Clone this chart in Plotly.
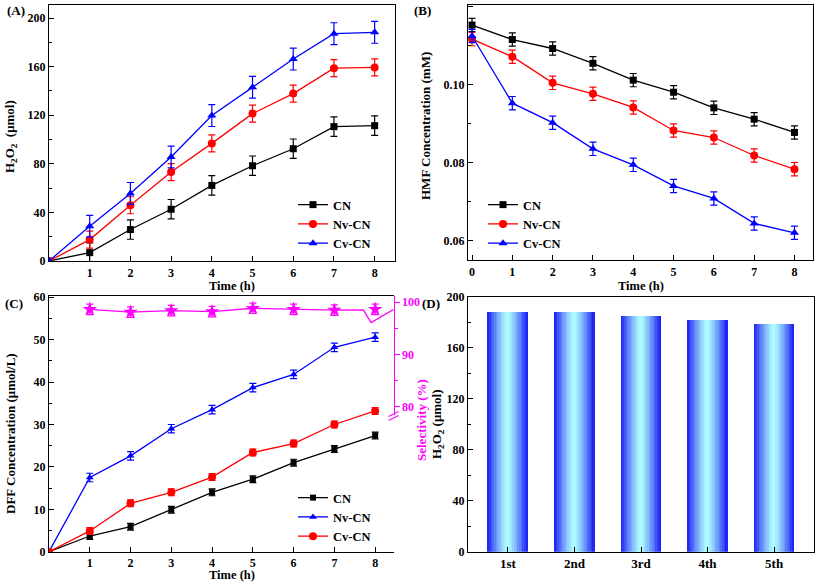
import plotly.graph_objects as go

W, H = 817, 588

# ---------------- data ----------------
time_a = [0, 1, 2, 3, 4, 5, 6, 7, 8]
h2o2_cn = [0, 6.9, 25.9, 42.6, 62.2, 78.4, 92.4, 110.6, 111.4]
h2o2_nv = [0, 17.6, 45.9, 73.2, 96.8, 121.3, 137.8, 158.7, 159.3]
h2o2_cv = [0, 28.6, 55.6, 85.6, 119.7, 143.0, 166.2, 187.1, 188.2]
h2o2_cn_err = [0, 8, 8, 8, 8, 8, 8, 8, 8]
h2o2_nv_err = [0, 7, 7, 7, 7, 7, 7, 7, 7]
h2o2_cv_err = [0, 9, 9, 9, 9, 9, 9, 9, 9]

time_b = [0, 1, 2, 3, 4, 5, 6, 7, 8]
hmf_cn = [0.1153, 0.1116, 0.1093, 0.1055, 0.1012, 0.0981, 0.0941, 0.0912, 0.0878]
hmf_nv = [0.1117, 0.1072, 0.1005, 0.0977, 0.0942, 0.0883, 0.0865, 0.0819, 0.0784]
hmf_cv = [0.1125, 0.0953, 0.0903, 0.0836, 0.0795, 0.0741, 0.0709, 0.0645, 0.0621]
hmf_err = 0.0017

time_c = [0, 1, 2, 3, 4, 5, 6, 7, 8]
dff_cn = [0, 3.7, 5.9, 9.9, 14.0, 17.1, 21.0, 24.2, 27.4]
dff_nv = [0, 17.5, 22.6, 29.0, 33.5, 38.7, 41.8, 48.2, 50.6]
dff_cv = [0, 4.9, 11.4, 14.0, 17.6, 23.4, 25.5, 30.0, 33.2]
dff_err = [0, 0.8, 0.8, 0.8, 0.8, 0.8, 0.8, 0.8, 0.8]
dff_nv_err = [0, 1.0, 1.0, 1.0, 1.0, 1.0, 1.0, 1.0, 1.0]

sel_time = [1, 2, 3, 4, 5, 6, 7, 8]
sel_vals = [98.65, 98.1, 98.4, 98.2, 98.85, 98.65, 98.5, 98.65]
sel_err = 1.0
sel_line_x = [1, 2, 3, 4, 5, 6, 7, 7.71, 7.90, 8.47]
sel_line_y = [98.65, 98.1, 98.4, 98.2, 98.85, 98.65, 98.5, 98.55, 96.1, 98.7]

cycles = ["1st", "2nd", "3rd", "4th", "5th"]
cycle_h2o2 = [187.9, 188.0, 184.7, 181.6, 179.0]

# ---------------- styling ----------------
FONT = "Liberation Serif"
BLACK, RED, BLUE, MAG = "#000000", "#ff0000", "#0000ff", "#ff00ff"


def px_x(p):
    return p / W


def px_y(p):
    return 1 - p / H


tickfont = dict(family=FONT, size=12, color="black", weight="bold")


def axis_common(**kw):
    d = dict(showline=True, linecolor="black", linewidth=1.2, ticks="inside",
             ticklen=5, tickwidth=1, tickcolor="black", showgrid=False,
             zeroline=False, tickfont=tickfont, automargin=False)
    d.update(kw)
    return d


fig = go.Figure()


def line_trace(x, y, err, color, symbol, size, name, xa, ya, legend):
    if isinstance(err, list):
        ey = dict(type="data", array=err)
    else:
        ey = dict(type="constant", value=err)
    ey.update(color=color, thickness=1.2, width=3.5, visible=True)
    fig.add_trace(go.Scatter(
        x=x, y=y, mode="lines+markers", name=name,
        line=dict(color=color, width=1.3),
        marker=dict(symbol=symbol, size=size, color=color),
        error_y=ey, xaxis=xa, yaxis=ya, legend=legend, showlegend=True))


# Panel A
line_trace(time_a, h2o2_cn, h2o2_cn_err, BLACK, "square", 7, "CN", "x", "y", "legend")
line_trace(time_a, h2o2_nv, h2o2_nv_err, RED, "circle", 8, "Nv-CN", "x", "y", "legend")
line_trace(time_a, h2o2_cv, h2o2_cv_err, BLUE, "triangle-up", 8, "Cv-CN", "x", "y", "legend")

# Panel B
line_trace(time_b, hmf_cn, hmf_err, BLACK, "square", 7, "CN", "x2", "y2", "legend2")
line_trace(time_b, hmf_nv, hmf_err, RED, "circle", 8, "Nv-CN", "x2", "y2", "legend2")
line_trace(time_b, hmf_cv, hmf_err, BLUE, "triangle-up", 8, "Cv-CN", "x2", "y2", "legend2")

# Panel C
line_trace(time_c, dff_cn, dff_err, BLACK, "square", 6, "CN", "x3", "y3", "legend3")
line_trace(time_c, dff_nv, dff_nv_err, BLUE, "triangle-up", 7, "Nv-CN", "x3", "y3", "legend3")
line_trace(time_c, dff_cv, dff_err, RED, "circle", 8, "Cv-CN", "x3", "y3", "legend3")

fig.add_trace(go.Scatter(x=sel_line_x, y=sel_line_y, mode="lines",
                         line=dict(color=MAG, width=1.3), showlegend=False,
                         xaxis="x3", yaxis="y5"))
fig.add_trace(go.Scatter(x=sel_time, y=sel_vals, mode="markers",
                         marker=dict(symbol="star", size=11, color=MAG),
                         error_y=dict(type="constant", value=sel_err, color=MAG,
                                      thickness=1.2, width=3.5),
                         showlegend=False, xaxis="x3", yaxis="y5"))

# Panel D gradient bars
N = 24
bw = 0.6
c_edge = (24, 24, 245)
c_mid = (176, 255, 255)
for i in range(N):
    center = -bw / 2 + (i + 0.5) * bw / N
    t = abs(center) / (bw / 2)
    t = t ** 1.3
    col = tuple(int(round(c_mid[k] + (c_edge[k] - c_mid[k]) * t)) for k in range(3))
    fig.add_trace(go.Bar(x=cycles, y=cycle_h2o2, width=bw / N + 0.002,
                         offset=-bw / 2 + i * bw / N,
                         marker=dict(color="rgb(%d,%d,%d)" % col, line=dict(width=0)),
                         showlegend=False, xaxis="x4", yaxis="y6",
                         hoverinfo="skip"))

# ---------------- layout ----------------
A_x = [px_x(49), px_x(395)]
A_y = [px_y(261), px_y(5)]
B_x = [px_x(468), px_x(813)]
B_y = [px_y(260), px_y(5)]
C_x = [px_x(49), px_x(393.5)]
C_y = [px_y(551.7), px_y(296)]
D_x = [px_x(468), px_x(814)]
D_y = [px_y(551.7), px_y(297)]

magfont = dict(family=FONT, size=12, color=MAG, weight="bold")

fig.update_layout(
    width=W, height=H, margin=dict(l=0, r=0, t=0, b=0, pad=0, autoexpand=False),
    paper_bgcolor="white", plot_bgcolor="rgba(0,0,0,0)",
    barmode="overlay", bargap=0,
    font=dict(family=FONT, size=12, color="black"),
    xaxis=axis_common(domain=A_x, anchor="y", range=[0, 8.5], tickvals=[1, 2, 3, 4, 5, 6, 7, 8], mirror=True),
    yaxis=axis_common(domain=A_y, anchor="x", range=[0, 210.7], tick0=0, dtick=40, mirror=True,
                      minor=dict(dtick=20, ticks="inside", ticklen=3, tickcolor="black")),
    xaxis2=axis_common(domain=B_x, anchor="y2", range=[-0.1, 8.46], tick0=0, dtick=1, mirror=True),
    yaxis2=axis_common(domain=B_y, anchor="x2", range=[0.05513, 0.12044],
                       tickvals=[0.06, 0.08, 0.10, 0.12], ticktext=["0.06", "0.08", "0.10", "0.12"], mirror=True,
                       minor=dict(tickvals=[0.07, 0.09, 0.11], ticks="inside", ticklen=3, tickcolor="black")),
    xaxis3=axis_common(domain=C_x, anchor="y3", range=[0, 8.45], tickvals=[1, 2, 3, 4, 5, 6, 7, 8], mirror=True),
    yaxis3=axis_common(domain=C_y, anchor="x3", range=[0, 60.3], tick0=0, dtick=10, mirror=False,
                       minor=dict(dtick=5, ticks="inside", ticklen=3, tickcolor="black")),
    yaxis4=dict(domain=[px_y(551.7), px_y(417.5)], anchor="x3", side="right", range=[0, 27.3],
                showline=True, linecolor=MAG, linewidth=1.2, ticks="outside", ticklen=5, tickcolor=MAG,
                tickvals=[0, 10, 20], showgrid=False, zeroline=False, automargin=False,
                tickfont=magfont,
                minor=dict(tickvals=[5, 15, 25], ticks="outside", ticklen=3, tickcolor=MAG)),
    yaxis5=dict(domain=[px_y(415), px_y(296)], anchor="x3", side="right", range=[78.4, 101.2],
                showline=True, linecolor=MAG, linewidth=1.2, ticks="outside", ticklen=5, tickcolor=MAG,
                tickvals=[80, 90, 100], showgrid=False, zeroline=False, automargin=False,
                tickfont=magfont,
                minor=dict(tickvals=[85, 95], ticks="outside", ticklen=3, tickcolor=MAG)),
    xaxis4=axis_common(domain=D_x, anchor="y6", range=[-0.6, 4.6], mirror=True,
                       tickfont=dict(family=FONT, size=13, color="black", weight="bold")),
    yaxis6=axis_common(domain=D_y, anchor="x4", range=[0, 200], tick0=0, dtick=40, mirror=True,
                       minor=dict(dtick=20, ticks="inside", ticklen=3, tickcolor="black")),
)

legend_style = dict(font=dict(family=FONT, size=12.5, color="black", weight="bold"),
                    bgcolor="rgba(0,0,0,0)", xanchor="left", yanchor="top",
                    itemwidth=30, tracegroupgap=0)
fig.update_layout(
    legend=dict(x=px_x(293), y=px_y(190), **legend_style),
    legend2=dict(x=px_x(483), y=px_y(190), **legend_style),
    legend3=dict(x=px_x(293), y=px_y(483), **legend_style),
)

# titles / labels as annotations
ann = []


def add_text(x, y, text, angle=0, color="black", size=13):
    ann.append(dict(x=px_x(x), y=px_y(y), xref="paper", yref="paper", text=text,
                    showarrow=False, textangle=angle, xanchor="center", yanchor="middle",
                    font=dict(family=FONT, size=size, color=color, weight="bold")))


add_text(232, 285.5, "Time (h)", size=12.5)
add_text(641, 285.5, "Time (h)", size=12.5)
add_text(232, 575, "Time (h)", size=12.5)
add_text(10, 137, "H<sub>2</sub>O<sub>2</sub>  (μmol)", -90)
add_text(425, 126, "HMF Concentration (mM)", -90)
add_text(10, 434, "DFF Concentration (μmol/L)", -90)
add_text(421, 420, "Selectivity (%)", -90, MAG)
add_text(437, 424, "H<sub>2</sub>O<sub>2</sub> (μmol)", -90)
add_text(16, 11, "(A)")
add_text(422, 11, "(B)")
add_text(14, 303, "(C)")
add_text(431, 303, "(D)")
fig.update_layout(annotations=ann)

# axis break marks on right axis of panel C
bx = 393.5
for dy in (-2, 2):
    fig.add_shape(type="line", xref="paper", yref="paper",
                  x0=px_x(bx - 5), y0=px_y(416 + dy + 2.5), x1=px_x(bx + 5), y1=px_y(416 + dy - 2.5),
                  line=dict(color=MAG, width=1.2))

fig.write_html("out.html", config={"displayModeBar": False},
               post_script="document.body.style.margin='0';document.body.style.overflow='hidden';")
